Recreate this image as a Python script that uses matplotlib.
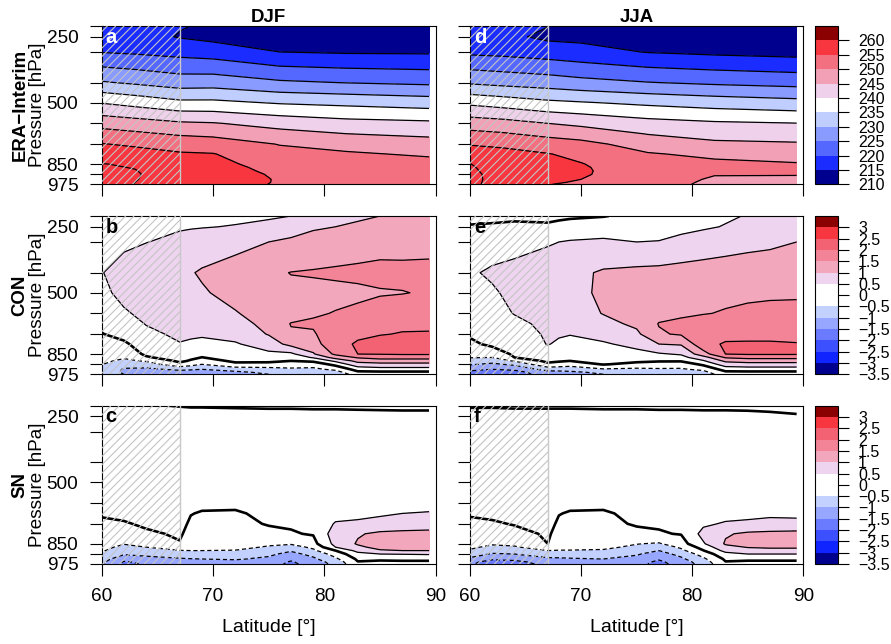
import numpy as np
import matplotlib
matplotlib.use("Agg")
import matplotlib.pyplot as plt
from matplotlib.colors import ListedColormap, BoundaryNorm
from matplotlib.cm import ScalarMappable
from matplotlib.ticker import NullLocator

plt.rcParams['font.family'] = ['Liberation Sans', 'DejaVu Sans']
plt.rcParams['hatch.linewidth'] = 0.8
plt.rcParams['hatch.color'] = '#c4c4c4'
plt.rcParams['lines.scale_dashes'] = False
plt.rcParams['lines.dashed_pattern'] = [3.0, 2.0]

# vertical axis: pressure ticks and where they sit (0 = bottom, 1 = top)
p_ticks = [200, 250, 300, 400, 500, 600, 700, 850, 925, 975]
p_tick_pos = [1.0, 0.932, 0.836, 0.642, 0.515, 0.385, 0.254, 0.128, 0.063, 0.0]
p_tick_labels = ['', '250', '', '', '500', '', '', '850', '', '975']

# pressure levels of the data (top to bottom)
levels_p = [200, 250, 300, 400, 500, 600, 650, 700, 775, 850, 875, 900, 925, 950, 965, 975]

# latitudes of the data columns
lat_t = [60, 63, 67, 70, 76, 82, 89.4]
lat_d = [60, 62, 64, 67, 68, 69, 72, 75, 77, 79, 81, 83, 85, 87, 89.4]

# ERA-Interim temperature [K], one profile per latitude in lat_t
era_djf = [
    [216.5, 217.5, 219.8, 230.5, 239.8, 248.2, 251.8, 255.2, 257.6, 260.1, 260.3, 260.5, 260.7, 261.0, 261.2, 261.3],
    [216.0, 217.0, 219.3, 229.3, 238.3, 247.2, 250.8, 254.3, 256.8, 259.6, 259.9, 260.1, 260.2, 260.1, 260.0, 259.9],
    [215.3, 214.7, 218.4, 227.6, 236.2, 245.7, 249.4, 253.0, 255.5, 257.5, 258.1, 258.5, 258.8, 258.8, 258.6, 258.5],
    [214.3, 213.6, 217.7, 227.8, 236.2, 245.3, 248.8, 252.6, 255.2, 256.3, 256.6, 256.8, 257.0, 257.0, 256.9, 256.8],
    [212.5, 213.2, 215.0, 225.8, 234.6, 243.2, 246.5, 249.8, 251.5, 253.0, 253.6, 254.0, 254.4, 254.7, 254.7, 254.6],
    [211.5, 212.3, 214.5, 224.9, 233.8, 241.7, 245.0, 248.0, 250.7, 251.9, 252.3, 252.6, 252.9, 253.2, 253.3, 253.3],
    [211.0, 212.0, 214.4, 224.1, 232.7, 241.0, 244.1, 246.9, 249.3, 251.8, 252.2, 252.4, 252.6, 252.9, 253.0, 253.0],
]
era_jja = [
    [216.5, 217.3, 219.0, 229.4, 239.0, 247.6, 251.2, 254.7, 257.4, 260.05, 260.2, 260.3, 260.4, 260.5, 260.5, 260.5],
    [215.8, 216.2, 218.6, 228.5, 237.8, 246.8, 250.4, 254.0, 256.6, 258.8, 259.1, 259.2, 259.3, 259.2, 259.1, 259.0],
    [215.1, 214.0, 217.6, 227.6, 236.1, 245.0, 248.7, 252.5, 255.2, 256.5, 256.6, 256.6, 256.5, 256.0, 255.5, 255.1],
    [213.5, 213.8, 216.7, 226.6, 235.4, 243.9, 247.6, 251.5, 253.8, 255.2, 255.5, 255.6, 255.5, 255.0, 254.6, 254.4],
    [212.3, 213.0, 214.8, 225.2, 234.0, 241.8, 244.8, 247.8, 250.4, 251.8, 252.1, 252.3, 252.4, 252.2, 252.0, 251.9],
    [211.5, 212.3, 214.0, 224.2, 232.8, 240.7, 243.2, 246.0, 249.0, 251.0, 251.0, 250.8, 250.2, 249.5, 249.2, 249.0],
    [211.0, 211.8, 213.3, 223.3, 231.7, 240.1, 242.8, 245.5, 247.6, 250.4, 250.8, 250.9, 250.2, 249.3, 249.0, 248.9],
]

# model minus ERA-Interim [K], one profile per latitude in lat_d
con_djf = [
    [0.25, 0.30, 0.38, 0.48, 0.40, 0.28, 0.12, -0.02, -0.15, -0.25, -0.30, -0.40, -0.48, -0.55, -0.60, -0.60],
    [0.30, 0.38, 0.40, 0.70, 0.62, 0.45, 0.30, 0.15, -0.08, -0.30, -0.45, -0.60, -0.80, -1.05, -1.10, -1.00],
    [0.35, 0.42, 0.49, 0.80, 0.75, 0.60, 0.52, 0.40, 0.25, 0.08, -0.05, -0.45, -0.75, -1.10, -1.20, -1.10],
    [0.38, 0.46, 0.60, 0.90, 0.85, 0.75, 0.66, 0.58, 0.48, 0.30, 0.20, 0.10, -0.15, -0.90, -1.20, -1.30],
    [0.39, 0.47, 0.66, 0.97, 0.90, 0.78, 0.68, 0.57, 0.43, 0.21, 0.10, -0.05, -0.32, -0.95, -1.20, -1.30],
    [0.40, 0.48, 0.72, 1.05, 0.95, 0.82, 0.70, 0.56, 0.38, 0.12, -0.01, -0.20, -0.50, -1.00, -1.20, -1.30],
    [0.42, 0.52, 0.85, 1.20, 1.15, 0.97, 0.85, 0.68, 0.45, 0.25, 0.18, 0.08, -0.10, -0.80, -1.10, -1.20],
    [0.45, 0.60, 1.00, 1.42, 1.35, 1.20, 1.12, 1.03, 0.75, 0.40, 0.28, 0.10, -0.15, -0.70, -0.90, -1.00],
    [0.50, 0.80, 1.08, 1.51, 1.42, 1.30, 1.52, 1.45, 1.15, 0.40, 0.20, 0.00, -0.20, -0.60, -0.80, -0.90],
    [0.85, 0.95, 1.15, 1.54, 1.38, 1.45, 1.56, 1.45, 1.30, 0.95, 0.55, 0.10, -0.30, -0.60, -0.80, -0.90],
    [0.90, 1.00, 1.18, 1.58, 1.38, 1.52, 1.70, 1.80, 1.85, 1.60, 1.20, 0.60, 0.15, -0.40, -0.70, -0.80],
    [0.95, 1.05, 1.22, 1.62, 1.40, 1.60, 1.80, 1.92, 2.05, 2.00, 1.55, 1.15, 0.80, 0.20, -0.10, -0.30],
    [1.00, 1.10, 1.25, 1.68, 1.45, 1.75, 1.90, 1.98, 2.15, 2.02, 1.70, 1.25, 0.85, 0.30, -0.10, -0.25],
    [1.00, 1.15, 1.28, 1.65, 1.48, 1.80, 1.93, 2.02, 2.20, 2.05, 1.70, 1.25, 0.85, 0.30, -0.10, -0.25],
    [1.02, 1.18, 1.30, 1.66, 1.55, 1.85, 1.95, 2.02, 2.22, 2.05, 1.70, 1.25, 0.85, 0.30, -0.10, -0.20],
]
con_jja = [
    [-0.12, 0.03, 0.22, 0.45, 0.38, 0.25, 0.15, 0.05, -0.08, -0.35, -0.48, -0.70, -0.95, -1.40, -1.60, -1.60],
    [-0.10, 0.05, 0.30, 0.56, 0.45, 0.32, 0.22, 0.12, 0.08, -0.22, -0.50, -0.80, -1.10, -1.50, -1.70, -1.70],
    [-0.08, 0.08, 0.32, 0.65, 0.60, 0.52, 0.38, 0.28, 0.18, 0.06, 0.00, -0.45, -0.90, -1.40, -1.70, -1.70],
    [-0.08, 0.05, 0.45, 0.78, 0.75, 0.68, 0.62, 0.56, 0.52, 0.30, 0.20, 0.12, -0.12, -0.80, -1.20, -1.30],
    [-0.05, 0.07, 0.50, 0.83, 0.80, 0.72, 0.64, 0.54, 0.44, 0.24, 0.14, 0.06, -0.21, -0.80, -1.15, -1.25],
    [-0.03, 0.08, 0.55, 0.88, 0.85, 0.75, 0.66, 0.52, 0.35, 0.18, 0.08, 0.00, -0.30, -0.80, -1.10, -1.20],
    [-0.01, 0.12, 0.62, 1.05, 1.08, 1.02, 0.85, 0.65, 0.45, 0.25, 0.18, 0.10, 0.03, -0.55, -0.90, -1.00],
    [0.05, 0.20, 0.50, 1.12, 1.20, 1.20, 1.10, 0.90, 0.62, 0.38, 0.25, 0.10, -0.15, -0.60, -0.80, -0.90],
    [0.15, 0.28, 0.52, 1.14, 1.25, 1.35, 1.52, 1.45, 1.00, 0.45, 0.30, 0.05, -0.25, -0.55, -0.75, -0.85],
    [0.25, 0.38, 0.62, 1.18, 1.30, 1.42, 1.60, 1.55, 1.05, 0.55, 0.35, 0.05, -0.30, -0.55, -0.70, -0.80],
    [0.35, 0.45, 0.70, 1.22, 1.35, 1.48, 1.68, 1.80, 1.85, 1.30, 0.80, 0.45, 0.10, -0.40, -0.65, -0.75],
    [0.45, 0.52, 0.78, 1.25, 1.40, 1.53, 1.72, 1.85, 2.05, 2.00, 1.55, 1.10, 0.75, 0.20, -0.10, -0.25],
    [0.52, 0.60, 0.85, 1.28, 1.42, 1.58, 1.75, 1.88, 2.05, 2.05, 1.65, 1.20, 0.80, 0.25, -0.10, -0.20],
    [0.58, 0.68, 0.90, 1.30, 1.44, 1.60, 1.75, 1.88, 2.05, 2.05, 1.65, 1.20, 0.80, 0.25, -0.10, -0.20],
    [0.62, 0.75, 1.00, 1.30, 1.45, 1.60, 1.75, 1.88, 2.02, 2.05, 1.65, 1.20, 0.80, 0.25, -0.10, -0.20],
]
sn_djf = [
    [0.02, 0.10, 0.18, 0.25, 0.22, 0.15, 0.03, -0.05, -0.15, -0.30, -0.38, -0.45, -0.60, -0.80, -0.90, -0.90],
    [0.02, 0.10, 0.18, 0.25, 0.22, 0.15, 0.08, -0.03, -0.25, -0.48, -0.60, -0.75, -0.95, -1.30, -1.55, -1.60],
    [0.02, 0.10, 0.18, 0.25, 0.22, 0.17, 0.10, 0.05, -0.05, -0.35, -0.50, -0.65, -0.85, -1.20, -1.40, -1.45],
    [-0.01, 0.10, 0.18, 0.25, 0.22, 0.17, 0.12, 0.08, 0.04, -0.02, -0.25, -0.52, -0.75, -1.05, -1.30, -1.35],
    [-0.02, 0.10, 0.18, 0.23, 0.17, 0.09, 0.01, -0.04, -0.10, -0.22, -0.34, -0.50, -0.70, -1.02, -1.25, -1.30],
    [-0.02, 0.10, 0.18, 0.22, 0.15, 0.06, -0.02, -0.06, -0.12, -0.24, -0.36, -0.50, -0.70, -1.00, -1.20, -1.25],
    [-0.03, 0.10, 0.18, 0.22, 0.15, 0.06, -0.03, -0.08, -0.12, -0.25, -0.37, -0.52, -0.70, -0.95, -1.15, -1.20],
    [-0.04, 0.10, 0.18, 0.22, 0.16, 0.10, 0.06, 0.02, -0.08, -0.42, -0.55, -0.72, -0.90, -1.10, -1.25, -1.30],
    [-0.04, 0.10, 0.18, 0.22, 0.16, 0.10, 0.07, 0.04, -0.03, -0.45, -0.70, -0.95, -1.15, -1.40, -1.55, -1.60],
    [-0.05, 0.10, 0.18, 0.22, 0.17, 0.12, 0.09, 0.06, 0.03, -0.15, -0.40, -0.60, -0.85, -1.10, -1.25, -1.30],
    [-0.05, 0.10, 0.20, 0.25, 0.22, 0.20, 0.30, 0.55, 0.75, 0.65, 0.50, 0.00, -0.30, -0.60, -0.80, -0.85],
    [-0.06, 0.10, 0.20, 0.25, 0.24, 0.28, 0.38, 0.58, 0.95, 1.05, 0.90, 0.65, 0.35, 0.08, -0.02, -0.10],
    [-0.07, 0.10, 0.20, 0.25, 0.25, 0.32, 0.45, 0.62, 1.10, 1.25, 1.15, 0.95, 0.50, 0.10, -0.10, -0.15],
    [-0.08, 0.10, 0.20, 0.25, 0.26, 0.36, 0.50, 0.66, 1.15, 1.30, 1.20, 1.00, 0.52, 0.12, -0.08, -0.15],
    [-0.08, 0.10, 0.20, 0.25, 0.28, 0.40, 0.52, 0.70, 1.18, 1.32, 1.22, 1.00, 0.55, 0.12, -0.08, -0.12],
]
sn_jja = [
    [-0.02, 0.08, 0.15, 0.22, 0.20, 0.14, 0.03, -0.06, -0.18, -0.32, -0.42, -0.55, -0.75, -1.10, -1.40, -1.45],
    [-0.02, 0.08, 0.15, 0.22, 0.20, 0.14, 0.07, -0.04, -0.22, -0.45, -0.60, -0.80, -1.05, -1.45, -1.65, -1.70],
    [-0.03, 0.08, 0.15, 0.22, 0.20, 0.15, 0.10, 0.02, -0.10, -0.40, -0.55, -0.75, -1.00, -1.40, -1.60, -1.65],
    [-0.03, 0.08, 0.15, 0.22, 0.20, 0.16, 0.12, 0.08, 0.04, 0.00, -0.25, -0.50, -0.75, -1.10, -1.35, -1.40],
    [-0.03, 0.08, 0.15, 0.21, 0.17, 0.09, 0.01, -0.04, -0.10, -0.24, -0.36, -0.52, -0.75, -1.08, -1.30, -1.35],
    [-0.03, 0.08, 0.15, 0.20, 0.14, 0.06, -0.02, -0.06, -0.12, -0.25, -0.38, -0.52, -0.75, -1.05, -1.25, -1.30],
    [-0.04, 0.08, 0.15, 0.20, 0.14, 0.06, -0.03, -0.08, -0.13, -0.28, -0.40, -0.55, -0.72, -1.00, -1.20, -1.25],
    [-0.04, 0.08, 0.15, 0.20, 0.16, 0.10, 0.06, 0.03, -0.08, -0.48, -0.60, -0.78, -0.95, -1.15, -1.30, -1.35],
    [-0.05, 0.08, 0.15, 0.20, 0.16, 0.10, 0.07, 0.04, -0.03, -0.55, -0.80, -1.00, -1.20, -1.45, -1.60, -1.65],
    [-0.05, 0.08, 0.15, 0.20, 0.17, 0.12, 0.09, 0.06, 0.02, -0.20, -0.42, -0.62, -0.85, -1.10, -1.25, -1.30],
    [-0.06, 0.08, 0.16, 0.22, 0.20, 0.18, 0.25, 0.42, 0.65, 0.45, 0.20, -0.02, -0.30, -0.60, -0.75, -0.80],
    [-0.06, 0.08, 0.18, 0.22, 0.22, 0.25, 0.33, 0.55, 0.95, 1.05, 0.88, 0.65, 0.35, 0.08, -0.02, -0.10],
    [-0.07, 0.08, 0.18, 0.22, 0.23, 0.28, 0.38, 0.58, 1.08, 1.15, 1.02, 0.85, 0.50, 0.10, -0.08, -0.12],
    [-0.08, 0.06, 0.18, 0.22, 0.24, 0.30, 0.42, 0.62, 1.12, 1.18, 1.05, 0.88, 0.50, 0.10, -0.08, -0.12],
    [-0.10, 0.03, 0.18, 0.22, 0.25, 0.32, 0.40, 0.62, 1.15, 1.20, 1.05, 0.88, 0.50, 0.10, -0.08, -0.12],
]

# colour classes
t_bounds = [210, 215, 220, 225, 230, 235, 240, 245, 250, 255, 260, 265]
t_colors = ['#00008f', '#1a2cff', '#5468ff', '#8a9bff', '#bfcdff', '#ffffff',
            '#efd1ec', '#f2a0b6', '#f2707f', '#f7363f', '#8b0000']
# in the maps the warmest corner keeps the 255-260 red
t_map_colors = t_colors[:-1] + [t_colors[-2]]
t_lines = [215, 220, 225, 230, 235, 240, 245, 250, 255, 260]

d_bounds = [-3.5, -3, -2.5, -2, -1.5, -1, -0.5, 0, 0.5, 1, 1.5, 2, 2.5, 3, 3.5]
d_colors = ['#00008f', '#1024ff', '#3d50ff', '#6a7bff', '#97a6ff', '#c2d1ff', '#ffffff',
            '#ffffff', '#efd4f0', '#f2a7bd', '#f38396', '#f26272', '#f7363f', '#8b0000']
d_neg = [-3, -2.5, -2, -1.5, -1, -0.5]
d_pos = [0.5, 1, 1.5, 2, 2.5, 3]


def to_axis(p):
    return np.interp(p, p_ticks, 1.0 - np.asarray(p_tick_pos))


def from_axis(t):
    return np.interp(t, 1.0 - np.asarray(p_tick_pos), p_ticks)


W, H = 891.0, 644.0
fig = plt.figure(figsize=(W / 100, H / 100), dpi=100)

col_left = [101.7, 470.0]
col_width = [334.0, 333.3]
row_top = [26.0, 216.0, 405.7]
row_h = 158.3

rows = [
    ('ERA\u2212Interim', [era_djf, era_jja], lat_t, t_bounds, t_colors, t_map_colors),
    ('CON', [con_djf, con_jja], lat_d, d_bounds, d_colors, d_colors),
    ('SN', [sn_djf, sn_jja], lat_d, d_bounds, d_colors, d_colors),
]
letters = [['a', 'd'], ['b', 'e'], ['c', 'f']]
seasons = ['DJF', 'JJA']

for r, (name, fields, lats, bounds, colors, map_colors) in enumerate(rows):
    y0 = 1 - (row_top[r] + row_h) / H
    for c in range(2):
        ax = fig.add_axes([col_left[c] / W, y0, col_width[c] / W, row_h / H])
        ax.set_yscale('function', functions=(to_axis, from_axis))
        z = np.array(fields[c]).T
        ax.contourf(lats, levels_p, z, levels=bounds, colors=map_colors)
        if r == 0:
            ax.contour(lats, levels_p, z, levels=t_lines, colors='k', linewidths=0.9)
        else:
            ax.contour(lats, levels_p, z, levels=d_neg, colors='k', linewidths=0.9,
                       linestyles='dashed')
            ax.contour(lats, levels_p, z, levels=d_pos, colors='k', linewidths=0.9,
                       linestyles='solid')
            ax.contour(lats, levels_p, z, levels=[0], colors='k', linewidths=1.9)
        # hatched area south of 67N
        ax.axvspan(60, 67, facecolor='none', edgecolor='#c4c4c4', hatch='////',
                   linewidth=0, zorder=4)
        ax.axvline(67, color='#c8c8c8', lw=1.0, zorder=4)

        ax.set_xlim(60, 90)
        ax.set_ylim(975, 200)
        ax.set_yticks(p_ticks)
        ax.yaxis.set_minor_locator(NullLocator())
        ax.set_xticks([60, 70, 80, 90])
        if c == 0:
            ax.set_yticklabels(p_tick_labels)
        else:
            ax.set_yticklabels([])
        if r == 2:
            ax.set_xticklabels(['60', '70', '80', '90'])
        else:
            ax.set_xticklabels([])
        ax.tick_params(axis='y', direction='out', length=8.4, width=0.8,
                       labelsize=13.7, pad=8.4)
        ax.tick_params(axis='x', direction='out', length=8.4, width=0.8,
                       labelsize=13.7, pad=9)
        for sp in ax.spines.values():
            sp.set_linewidth(0.8)

        ax.text(0.012, 0.99, letters[r][c], transform=ax.transAxes, ha='left', va='top',
                fontsize=14.5, fontweight='bold',
                color='white' if r == 0 else 'black', zorder=6)

        if r == 0:
            fig.text((col_left[c] + col_width[c] / 2) / W, 1 - 21.7 / H, seasons[c],
                     ha='center', va='baseline', fontsize=13.4, fontweight='bold')
        if r == 2:
            fig.text((col_left[c] + col_width[c] / 2) / W, 1 - 628 / H, 'Latitude [\u00b0]',
                     ha='center', va='center', fontsize=14)

    # colour bar for the row
    cax = fig.add_axes([815 / W, y0, 22.7 / W, row_h / H])
    sm = ScalarMappable(norm=BoundaryNorm(bounds, len(colors)), cmap=ListedColormap(colors))
    cb = fig.colorbar(sm, cax=cax, ticks=bounds[:-1])
    cb.ax.set_yticklabels([f"{v:g}".replace('-', '\u2212') for v in bounds[:-1]])
    cb.outline.set_linewidth(0.8)
    cax.minorticks_off()
    cax.tick_params(length=8.2, width=0.8, labelsize=11.5, pad=6.5)

    yc = 1 - (row_top[r] + row_h / 2) / H
    fig.text(20 / W, yc, name, rotation=90, ha='center', va='center',
             fontsize=13.4, fontweight='bold')
    fig.text(37 / W, yc, 'Pressure [hPa]', rotation=90, ha='center', va='center',
             fontsize=13.6)

fig.savefig('out.png', dpi=100)
